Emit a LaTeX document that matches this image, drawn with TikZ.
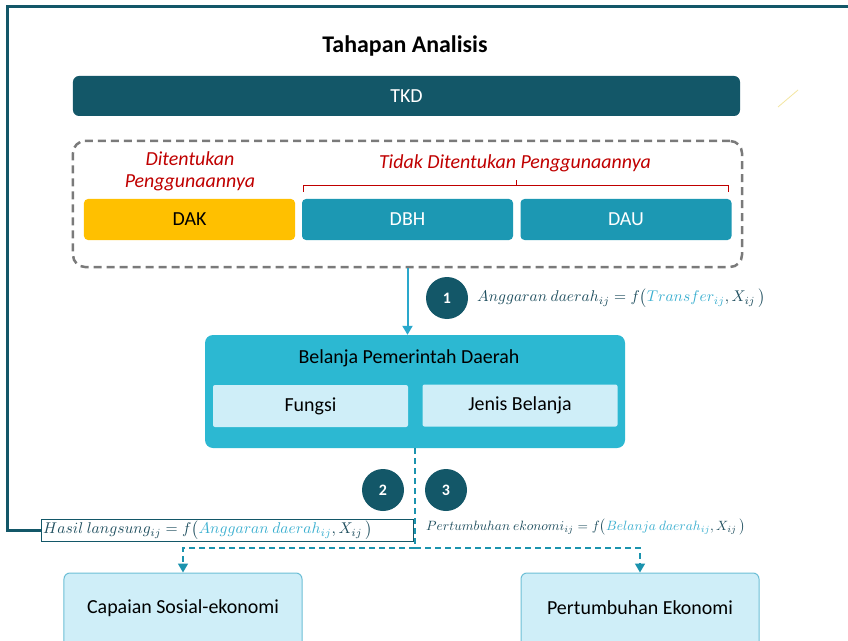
\documentclass[tikz,border=0pt]{standalone}
\usepackage{fontspec}
\usepackage{graphicx}
\setmainfont{Carlito}
\usetikzlibrary{arrows.meta}
\definecolor{dteal}{HTML}{135768}
\definecolor{mteal}{HTML}{1C98B3}
\definecolor{lteal}{HTML}{2CB8D2}
\definecolor{pale}{HTML}{CFEEF8}
\definecolor{paleedge}{HTML}{6DBFD6}
\definecolor{arrc}{HTML}{2AA8CC}
\definecolor{dashc}{HTML}{1B93AE}
\definecolor{redc}{HTML}{C00000}
\definecolor{mtext}{HTML}{1E4E5E}
\definecolor{mblue}{HTML}{3AAFD0}
\definecolor{grayc}{HTML}{7A7A7A}
\definecolor{yel}{HTML}{FFC000}
\definecolor{faint}{HTML}{F3E6A0}
\begin{document}
\begin{tikzpicture}[x=1bp,y=-1bp,
  box/.style={rectangle, rounded corners=4bp, inner sep=0pt, anchor=center},
  bodyfont/.style={font=\fontsize{20}{24}\selectfont},
  fund/.style={box, minimum width=211bp, minimum height=41bp, bodyfont},
  sub/.style={box, rounded corners=2bp, fill=pale, minimum width=195bp, minimum height=42bp, text=black, bodyfont},
  outc/.style={box, rounded corners=6bp, fill=pale, draw=paleedge, line width=1bp, minimum width=238bp, minimum height=90bp},
  num/.style={circle, fill=dteal, minimum size=42bp, inner sep=0pt, text=white, font=\bfseries\fontsize{16}{19}\selectfont},
  redlab/.style={text=redc, font=\itshape\fontsize{20}{23}\selectfont, align=center, inner sep=0pt},
  eq/.style={text=mtext, inner sep=0pt, anchor=west},
  dline/.style={draw=dashc, line width=1.6bp, dash pattern=on 6bp off 4bp},
  tip/.style={-{Triangle[length=9bp,width=10bp]}}
]
\clip (0,0) rectangle (848,641);
\fill[white] (0,0) rectangle (848,641);

% title
\node[font=\bfseries\fontsize{24}{28}\selectfont, inner sep=0pt] (title) at (405,46) {Tahapan Analisis};

% TKD
\node[box, rounded corners=6bp, fill=dteal, minimum width=667bp, minimum height=40bp, text=white, bodyfont] (tkd) at (406.5,96) {TKD};

% faint stroke
\draw[faint, line width=0.8bp] (778,107) -- (798,90);

% dashed group
\node[box, draw=grayc, line width=2.5bp, dash pattern=on 8bp off 5bp, rounded corners=12bp, minimum width=669bp, minimum height=126bp] (grp) at (407.5,204) {};

\node[redlab] (dit) at (190,171) {Ditentukan\\[-1bp]Penggunaannya};
\node[redlab] (tdk) at (515,163) {Tidak Ditentukan Penggunaannya};
\draw[redc, line width=1bp] (303,192) -- (303,186) -- (728,186) -- (728,192);
\draw[redc, line width=1bp] (516,186) -- (516,180);

\node[fund, fill=yel, text=black] (dak) at (189.5,219.5) {DAK};
\node[fund, fill=mteal, text=white] (dbh) at (407.5,219.5) {DBH};
\node[fund, fill=mteal, text=white] (dau) at (626,219.5) {DAU};

% Belanja
\node[box, rounded corners=8bp, fill=lteal, minimum width=420bp, minimum height=113bp] (bel) at (415,391.5) {};
\node[inner sep=0pt, bodyfont, text=black] (beltitle) at (409,358) {Belanja Pemerintah Daerah};
\node[sub] (fun) at (310.5,406) {Fungsi};
\node[sub] (jen) at (520,405.5) {Jenis Belanja};

% arrow 1
\draw[arrc, line width=2bp, tip] (grp.south) -- (grp.south |- bel.north);
\node[num] (n1) at (447,298) {1};
\node[eq] (eq1) at (477,298) {\resizebox{288bp}{!}{$Anggaran\ daerah_{ij} = f\big({\color{mblue}Transfer_{ij}},X_{ij}\,\big)$}};

% numbers 2,3
\node[num] (n2) at (383,490) {2};
\node[num] (n3) at (446,490) {3};

% outcome boxes
\node[outc] (cap) at (183,618) {};
\node[inner sep=0pt, bodyfont] (captext) at (183,608) {Capaian Sosial-ekonomi};
\node[outc] (per) at (640,618) {};
\node[inner sep=0pt, bodyfont] (pertext) at (640,608) {Pertumbuhan Ekonomi};

% Hasil box
\node[rectangle, draw=dteal, line width=1bp, minimum width=371bp, minimum height=22bp, inner sep=0pt] (has) at (227.5,530) {};
\node[eq] (hastext) at (43,530) {\resizebox{329bp}{!}{$Hasil\ langsung_{ij} = f\big({\color{mblue}Anggaran\ daerah_{ij}},X_{ij}\,\big)$}};

% eq 3
\node[eq] (eq3) at (426,527) {\resizebox{319bp}{!}{$Pertumbuhan\ ekonomi_{ij} = f\big({\color{mblue}Belanja\ daerah_{ij}},X_{ij}\,\big)$}};

% frame
\coordinate (fl) at (7,530);
\coordinate (ftl) at (7,7);
\coordinate (ftr) at (852,7);
\draw[dteal, line width=3bp] (has.west) -- (fl) -- (ftl) -- (ftr);

% dashed flows
\coordinate (j) at (415,548);
\draw[dline] (bel.south) -- (j);
\draw[dline, tip] (j) -| (cap.north);
\draw[dline, tip] (j) -| (per.north);
\end{tikzpicture}
\end{document}
